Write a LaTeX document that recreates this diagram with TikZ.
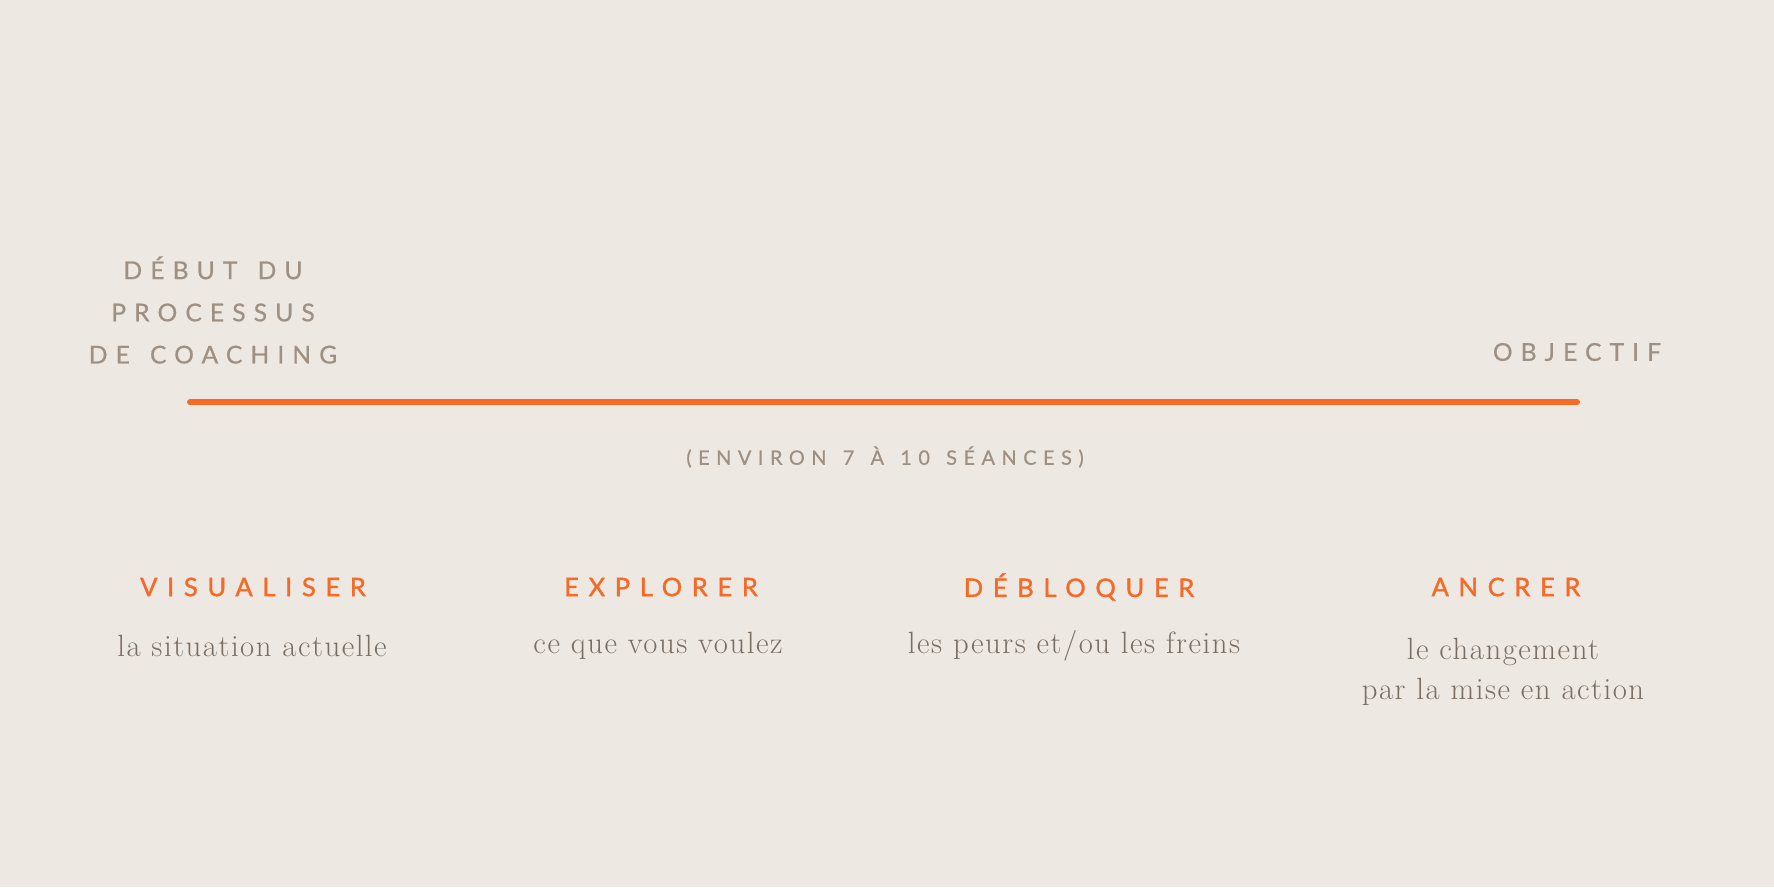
\documentclass[tikz,border=0pt]{standalone}
\usepackage{fontspec}
\newfontfamily\capsfont[LetterSpace=33,FakeBold=0.6,WordSpace=1.4]{Lato}
\newfontfamily\headfont[LetterSpace=38,FakeBold=1.4,WordSpace=1.4]{Lato}
\newfontfamily\bodyfont[LetterSpace=5]{Latin Modern Roman}
\definecolor{paper}{HTML}{EEE8E2}
\definecolor{taupe}{HTML}{9E9082}
\definecolor{ink}{HTML}{7A6E62}
\definecolor{flame}{HTML}{F56A27}
\tikzset{
  caps/.style={text=taupe,align=center,font=\capsfont\fontsize{14}{24}\selectfont},
  phase/.style={text=flame,font=\headfont\fontsize{14.5}{17}\selectfont},
  desc/.style={text=ink,align=center,font=\bodyfont\fontsize{17.5}{23}\selectfont}
}
\begin{document}
\begin{tikzpicture}[x=0.02cm,y=-0.02cm]
  \fill[paper] (0,0) rectangle (1774,887);
  % timeline
  \node[caps] (start) at (213,310) {DÉBUT DU\\PROCESSUS\\DE COACHING};
  \node[caps] (goal) at (1577,352) {OBJECTIF};
  \coordinate (a) at (190,402);
  \coordinate (b) at (1577,402);
  \draw[flame,line width=3.4pt,line cap=round] (a) -- (b);
  \node[caps,font=\capsfont\fontsize{11.3}{14}\selectfont] (dur) at (885,457) {(ENVIRON 7 À 10 SÉANCES)};
  % the four steps
  \foreach \x/\name/\head in {253/vis/VISUALISER,661/exp/EXPLORER,1079/deb/DÉBLOQUER,1506/anc/ANCRER}{
    \node[phase] (h\name) at (\x,587) {\head};}
  \node[desc] (dvis) at (252,646) {la situation actuelle};
  \node[desc] (dexp) at (658,646) {ce que vous voulez};
  \node[desc] (ddeb) at (1074,646) {les peurs et/ou les freins};
  \node[desc,anchor=north] (danc) at (1503,632) {le changement\\par la mise en action};
\end{tikzpicture}
\end{document}
